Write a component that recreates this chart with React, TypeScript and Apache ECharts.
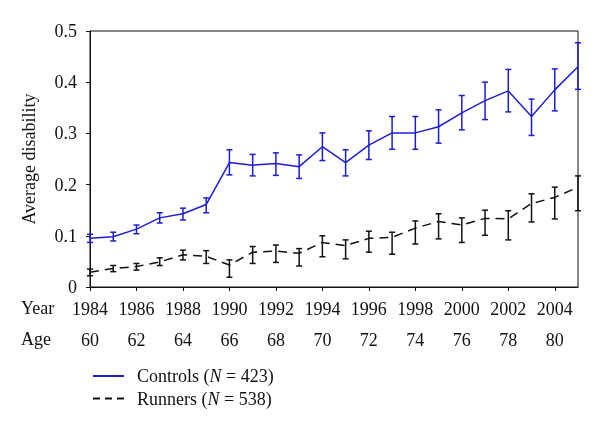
import React, { useEffect, useRef } from "react";
import * as echarts from "echarts";

const years = [1984, 1985, 1986, 1987, 1988, 1989, 1990, 1991, 1992, 1993, 1994, 1995, 1996, 1997, 1998, 1999, 2000, 2001, 2002, 2003, 2004, 2005];

const controlsMean = [0.095, 0.098, 0.113, 0.135, 0.143, 0.161, 0.243, 0.238, 0.241, 0.235, 0.274, 0.243, 0.277, 0.301, 0.301, 0.313, 0.340, 0.364, 0.383, 0.333, 0.385, 0.430];
const controlsLow = [0.087, 0.090, 0.104, 0.125, 0.131, 0.145, 0.219, 0.217, 0.218, 0.212, 0.247, 0.217, 0.249, 0.269, 0.269, 0.281, 0.307, 0.327, 0.342, 0.296, 0.344, 0.386];
const controlsHigh = [0.103, 0.107, 0.121, 0.145, 0.154, 0.174, 0.268, 0.259, 0.262, 0.258, 0.301, 0.268, 0.305, 0.333, 0.333, 0.346, 0.374, 0.400, 0.425, 0.367, 0.426, 0.477];

const runnersMean = [0.029, 0.036, 0.040, 0.049, 0.063, 0.060, 0.043, 0.068, 0.070, 0.066, 0.087, 0.081, 0.095, 0.097, 0.115, 0.128, 0.121, 0.134, 0.133, 0.163, 0.175, 0.195];
const runnersLow = [0.022, 0.030, 0.033, 0.042, 0.053, 0.046, 0.019, 0.046, 0.048, 0.041, 0.059, 0.055, 0.068, 0.064, 0.084, 0.094, 0.087, 0.101, 0.092, 0.127, 0.133, 0.149];
const runnersHigh = [0.035, 0.042, 0.046, 0.057, 0.072, 0.071, 0.053, 0.079, 0.082, 0.075, 0.100, 0.092, 0.109, 0.107, 0.129, 0.143, 0.135, 0.150, 0.149, 0.182, 0.195, 0.217];

const yearTicks = [1984, 1986, 1988, 1990, 1992, 1994, 1996, 1998, 2000, 2002, 2004];
const ageLabels = ["60", "62", "64", "66", "68", "70", "72", "74", "76", "78", "80"];

const controlsName = "Controls (N = 423)";
const runnersName = "Runners (N = 538)";

const BLUE = "#1c1cd8";
const BLACK = "#111111";
const FONT = "Liberation Serif";
const FS = 18;

function errorBarSeries(name: string, low: number[], high: number[], color: string) {
  return {
    type: "custom",
    name: name + " error",
    xAxisIndex: 0,
    yAxisIndex: 0,
    data: years.map((y, i) => [y, low[i], high[i]]),
    encode: { x: 0, y: [1, 2] },
    silent: true,
    z: 3,
    renderItem: (params: any, api: any) => {
      const x = api.value(0);
      const lo = api.coord([x, api.value(1)]);
      const hi = api.coord([x, api.value(2)]);
      const hw = 3;
      const style = { stroke: color, lineWidth: 1.5 };
      return {
        type: "group",
        children: [
          { type: "line", shape: { x1: lo[0], y1: lo[1], x2: hi[0], y2: hi[1] }, style },
          { type: "line", shape: { x1: hi[0] - hw, y1: hi[1], x2: hi[0] + hw, y2: hi[1] }, style },
          { type: "line", shape: { x1: lo[0] - hw, y1: lo[1], x2: lo[0] + hw, y2: lo[1] }, style },
        ],
      };
    },
  };
}

export default function App() {
  const ref = useRef<HTMLDivElement>(null);
  useEffect(() => {
    if (!ref.current) return;
    const chart = echarts.init(ref.current, undefined, { renderer: "svg" });
    const option: any = {
      animation: false,
      textStyle: { fontFamily: FONT, color: BLACK },
      grid: {
        left: 90,
        top: 31,
        right: 22,
        bottom: 155,
        show: true,
        borderColor: BLACK,
        borderWidth: 1,
        backgroundColor: "transparent",
      },
      legend: {
        orient: "vertical",
        left: 92,
        top: 367,
        padding: 0,
        itemWidth: 31,
        itemHeight: 14,
        itemGap: 4.5,
        data: [
          { name: controlsName },
          { name: runnersName, lineStyle: { type: [7, 5] } },
        ],
        itemStyle: { opacity: 0 },
        formatter: (name: string) => name.replace("N", "{i|N}"),
        textStyle: {
          fontFamily: FONT,
          fontSize: FS,
          color: BLACK,
          padding: [0, 0, 0, 8],
          rich: { i: { fontStyle: "italic", fontFamily: FONT, fontSize: FS, color: BLACK } },
        },
      },
      graphic: [
        { type: "text", left: 21, top: 299, style: { text: "Year", font: `${FS}px "${FONT}"`, fill: BLACK } },
        { type: "text", left: 21, top: 330, style: { text: "Age", font: `${FS}px "${FONT}"`, fill: BLACK } },
      ],
      xAxis: [
        {
          type: "value",
          min: 1984,
          max: 2005,
          interval: 2,
          axisLine: { show: true, lineStyle: { color: BLACK, width: 1 } },
          axisTick: { show: true, length: 4, customValues: yearTicks, lineStyle: { color: BLACK } },
          axisLabel: {
            customValues: yearTicks,
            margin: 13,
            fontSize: FS,
            fontFamily: FONT,
            color: BLACK,
            formatter: (v: number) => String(v),
          },
          splitLine: { show: false },
        },
        {
          type: "value",
          position: "bottom",
          offset: 31,
          min: 1984,
          max: 2005,
          interval: 2,
          axisLine: { show: false },
          axisTick: { show: false },
          axisLabel: {
            customValues: yearTicks,
            margin: 13,
            fontSize: FS,
            fontFamily: FONT,
            color: BLACK,
            formatter: (v: number) => {
              const i = yearTicks.indexOf(Math.round(v));
              return i >= 0 ? ageLabels[i] : "";
            },
          },
          splitLine: { show: false },
        },
      ],
      yAxis: {
        type: "value",
        min: 0,
        max: 0.5,
        interval: 0.1,
        name: "Average disability",
        nameLocation: "middle",
        nameGap: 52,
        nameTextStyle: { fontSize: FS, fontFamily: FONT, color: BLACK },
        axisLine: { show: true, lineStyle: { color: BLACK, width: 1 } },
        axisTick: { show: true, length: 4, lineStyle: { color: BLACK } },
        axisLabel: { fontSize: FS, fontFamily: FONT, color: BLACK, margin: 13 },
        splitLine: { show: false },
      },
      series: [
        {
          type: "line",
          name: controlsName,
          data: years.map((y, i) => [y, controlsMean[i]]),
          symbol: "none",
          lineStyle: { color: BLUE, width: 1.5 },
          itemStyle: { color: BLUE },
          z: 4,
        },
        errorBarSeries(controlsName, controlsLow, controlsHigh, BLUE),
        {
          type: "line",
          name: runnersName,
          data: years.map((y, i) => [y, runnersMean[i]]),
          symbol: "none",
          lineStyle: { color: BLACK, width: 1.5, type: [9, 6] },
          itemStyle: { color: BLACK },
          z: 4,
        },
        errorBarSeries(runnersName, runnersLow, runnersHigh, BLACK),
      ],
    };
    chart.setOption(option);
    return () => chart.dispose();
  }, []);
  return <div ref={ref} style={{ position: "fixed", left: 0, top: 0, width: 600, height: 442 }} />;
}
